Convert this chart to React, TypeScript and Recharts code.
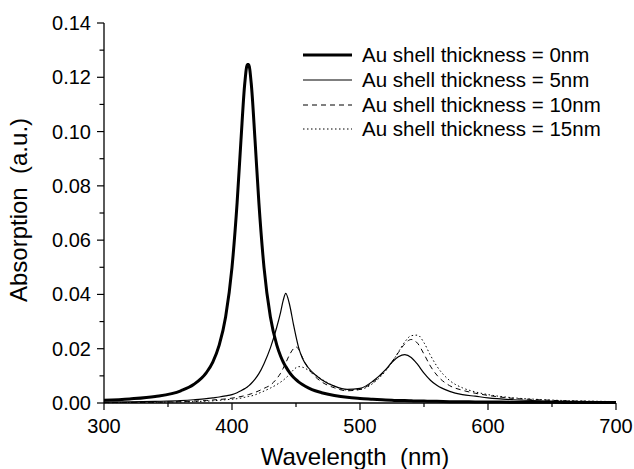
import React from 'react';
import { LineChart, Line, XAxis, YAxis, Legend } from 'recharts';

const FONT = '"Liberation Sans", Arial, sans-serif';

// wavelength grid (nm)
const wavelengths = [
  300, 320, 340, 360, 370, 380, 385, 390, 395, 400, 404, 407, 410, 412, 413, 415, 418, 421,
  425, 430, 435, 438, 440, 442, 445, 448, 450, 452, 455, 460, 465, 470, 480, 490, 500, 510,
  520, 525, 530, 535, 540, 545, 550, 555, 560, 570, 580, 590, 600, 620, 640, 660, 680, 700,
];

// absorption (a.u.)
const shell0 = [
  0.001, 0.0015, 0.0024, 0.0045, 0.0068, 0.0112, 0.0151, 0.0213, 0.0317, 0.05, 0.0738, 0.0968,
  0.1179, 0.1247, 0.1247, 0.1179, 0.0968, 0.0738, 0.05, 0.0317, 0.0213, 0.0172, 0.0151, 0.0134,
  0.0112, 0.0095, 0.0086, 0.0078, 0.0068, 0.0055, 0.0045, 0.0038, 0.0028, 0.0021, 0.0017, 0.0014,
  0.0011, 0.001, 0.0009, 0.0009, 0.0008, 0.0007, 0.0007, 0.0006, 0.0006, 0.0005, 0.0005, 0.0004,
  0.0004, 0.0003, 0.0003, 0.0002, 0.0002, 0.0002,
];
const shell5 = [
  0.0003, 0.0004, 0.0006, 0.0009, 0.0012, 0.0016, 0.0019, 0.0022, 0.0026, 0.0031, 0.0038, 0.0045,
  0.0053, 0.0059, 0.0063, 0.0072, 0.0088, 0.0108, 0.0145, 0.0203, 0.028, 0.0335, 0.0378, 0.0404,
  0.0362, 0.029, 0.0245, 0.0205, 0.0165, 0.0128, 0.0104, 0.0086, 0.0062, 0.005, 0.0054, 0.008,
  0.0123, 0.015, 0.017, 0.0178, 0.0168, 0.0142, 0.011, 0.0084, 0.0065, 0.0043, 0.0031, 0.0025,
  0.0019, 0.0012, 0.0008, 0.0006, 0.0005, 0.0004,
];
const shell10 = [
  0.0002, 0.0002, 0.0003, 0.0005, 0.0007, 0.0009, 0.0011, 0.0013, 0.0015, 0.0018, 0.0021, 0.0024,
  0.0027, 0.003, 0.0031, 0.0034, 0.0039, 0.0045, 0.0054, 0.0066, 0.009, 0.011, 0.0128, 0.0148,
  0.0178, 0.02, 0.0207, 0.0198, 0.0168, 0.0125, 0.0097, 0.0078, 0.0056, 0.0045, 0.005, 0.0076,
  0.0121, 0.0152, 0.0186, 0.0218, 0.0234, 0.022, 0.018, 0.0136, 0.0103, 0.0064, 0.0047, 0.0036,
  0.0028, 0.0017, 0.0012, 0.0008, 0.0006, 0.0005,
];
const shell15 = [
  0.0001, 0.0002, 0.0003, 0.0004, 0.0005, 0.0007, 0.0008, 0.001, 0.0012, 0.0014, 0.0016, 0.0018,
  0.0021, 0.0023, 0.0024, 0.0026, 0.003, 0.0036, 0.0044, 0.0055, 0.0068, 0.0077, 0.0084, 0.0092,
  0.0106, 0.0122, 0.013, 0.0134, 0.0132, 0.012, 0.0104, 0.0088, 0.0062, 0.0048, 0.005, 0.0072,
  0.0118, 0.015, 0.0188, 0.0225, 0.0248, 0.025, 0.0222, 0.0176, 0.0136, 0.0083, 0.0056, 0.0041,
  0.0031, 0.0019, 0.0013, 0.0009, 0.0007, 0.0005,
];

const xTicks = [300, 350, 400, 450, 500, 550, 600, 650, 700];
const yTicks = [0, 0.01, 0.02, 0.03, 0.04, 0.05, 0.06, 0.07, 0.08, 0.09, 0.1, 0.11, 0.12, 0.13, 0.14];

const SERIES = [
  { key: 's0', name: 'Au shell thickness = 0nm', width: 3, dash: undefined },
  { key: 's5', name: 'Au shell thickness = 5nm', width: 1.2, dash: undefined },
  { key: 's10', name: 'Au shell thickness = 10nm', width: 1, dash: '5 4' },
  { key: 's15', name: 'Au shell thickness = 15nm', width: 1, dash: '1.5 2.5' },
];

const data = wavelengths.map((wl, i) => ({
  wl,
  s0: shell0[i],
  s5: shell5[i],
  s10: shell10[i],
  s15: shell15[i],
}));

const XTick = (props: any) => {
  const { x, y, payload } = props;
  const major = payload.value % 100 === 0;
  return (
    <g>
      <line x1={x} y1={y} x2={x} y2={y + (major ? 7 : 4)} stroke="#000" strokeWidth={1.2} />
      {major && (
        <text x={x} y={y + 30} textAnchor="middle" fontFamily={FONT} fontSize={20} fill="#000">
          {payload.value}
        </text>
      )}
    </g>
  );
};

const YTick = (props: any) => {
  const { x, y, payload } = props;
  const major = Math.round(payload.value * 100) % 2 === 0;
  return (
    <g>
      <line x1={x} y1={y} x2={x - (major ? 7 : 4.5)} y2={y} stroke="#000" strokeWidth={1.2} />
      {major && (
        <text x={x - 13} y={y + 7} textAnchor="end" fontFamily={FONT} fontSize={20} fill="#000">
          {payload.value.toFixed(2)}
        </text>
      )}
    </g>
  );
};

const XTitle = (props: any) => {
  const { viewBox } = props;
  const cx = viewBox.x + viewBox.width / 2 - 5;
  return (
    <text x={cx} y={viewBox.y + 62} textAnchor="middle" fontFamily={FONT} fontSize={24}
      fill="#000" style={{ whiteSpace: 'pre' }}>
      Wavelength  (nm)
    </text>
  );
};

const YTitle = (props: any) => {
  const { viewBox } = props;
  const cx = viewBox.x + 27;
  const cy = viewBox.y + viewBox.height / 2 - 3;
  return (
    <text x={cx} y={cy} transform={`rotate(-90, ${cx}, ${cy})`} textAnchor="middle"
      fontFamily={FONT} fontSize={24} fill="#000" style={{ whiteSpace: 'pre' }}>
      Absorption  (a.u.)
    </text>
  );
};

const renderLegend = () => (
  <div style={{ fontFamily: FONT, fontSize: 20.5, color: '#000' }}>
    {SERIES.map((s) => (
      <div key={s.key} style={{ display: 'flex', alignItems: 'center', height: 24.7, whiteSpace: 'nowrap' }}>
        <svg width={49} height={10} style={{ marginRight: 10 }}>
          <line x1={0} y1={5} x2={49} y2={5} stroke="#000" strokeWidth={s.width} strokeDasharray={s.dash} />
        </svg>
        <span>{s.name}</span>
      </div>
    ))}
  </div>
);

export default function App() {
  return (
    <div style={{ position: 'absolute', left: 0, top: 0, background: '#fff' }}>
      <LineChart width={634} height={469} data={data} margin={{ top: 23, right: 18, bottom: 0, left: 0 }}>
        <XAxis
          dataKey="wl"
          type="number"
          domain={[300, 700]}
          ticks={xTicks}
          interval={0}
          height={66}
          tickSize={0}
          tickMargin={0}
          tickLine={false}
          tick={<XTick />}
          stroke="#000"
          strokeWidth={1.3}
          label={<XTitle />}
        />
        <XAxis xAxisId="top" orientation="top" type="number" domain={[300, 700]} height={0}
          tick={false} tickLine={false} stroke="#000" strokeWidth={1.3} />
        <YAxis
          type="number"
          domain={[0, 0.14]}
          ticks={yTicks}
          interval={0}
          width={104}
          tickSize={0}
          tickMargin={0}
          tickLine={false}
          tick={<YTick />}
          stroke="#000"
          strokeWidth={1.3}
          label={<YTitle />}
        />
        <YAxis yAxisId="right" orientation="right" type="number" domain={[0, 0.14]} width={0}
          tick={false} tickLine={false} stroke="#444" strokeWidth={1.3} />
        <Legend
          layout="vertical"
          align="center"
          verticalAlign="middle"
          content={renderLegend}
          wrapperStyle={{ left: 303, top: 43, width: 320 }}
        />
        {SERIES.map((s) => (
          <Line
            key={s.key}
            type="monotone"
            dataKey={s.key}
            name={s.name}
            stroke="#000"
            strokeWidth={s.width}
            strokeDasharray={s.dash}
            dot={false}
            activeDot={false}
            isAnimationActive={false}
          />
        ))}
      </LineChart>
    </div>
  );
}
